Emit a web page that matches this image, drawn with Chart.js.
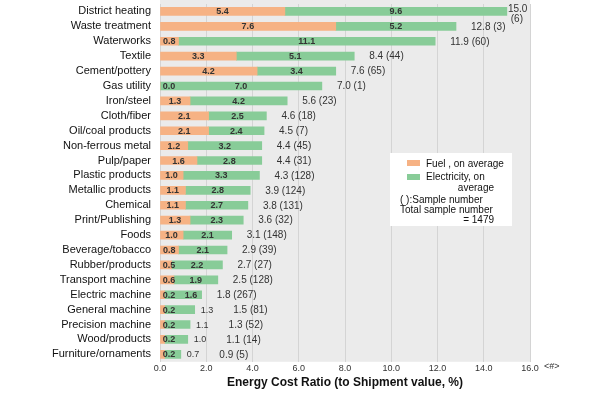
<!DOCTYPE html>
<html>
<head>
<meta charset="utf-8">
<script src="https://cdn.jsdelivr.net/npm/chart.js@4.4.1/dist/chart.umd.min.js"></script>
<style>
  html, body { margin: 0; padding: 0; background: #fff; }
  #wrap { width: 600px; height: 396px; position: relative; }
</style>
</head>
<body>
<div id="wrap"><canvas id="costChart"></canvas></div>
<script>

// Industry categories, top to bottom. 
var industries = ['District heating', 'Waste treatment', 'Waterworks', 'Textile', 'Cement/pottery',
	'Gas utility', 'Iron/steel', 'Cloth/fiber', 'Oil/coal products', 'Non-ferrous metal', 'Pulp/paper',
	'Plastic products', 'Metallic products', 'Chemical', 'Print/Publishing', 'Foods', 'Beverage/tobacco',
	'Rubber/products', 'Transport machine', 'Electric machine', 'General machine', 'Precision machine',
	'Wood/products', 'Furniture/ornaments'];

// Fuel cost ratio, on average (%). 
var fuel = [5.4, 7.6, 0.8, 3.3, 4.2, 0.0, 1.3, 2.1, 2.1, 1.2, 1.6, 1.0, 1.1, 1.1, 1.3, 1.0, 0.8, 0.5, 0.6, 0.2, 0.2, 0.2, 0.2, 0.2];

// Electricity cost ratio, on average (%). 
var electricity = [9.6, 5.2, 11.1, 5.1, 3.4, 7.0, 4.2, 2.5, 2.4, 3.2, 2.8, 3.3, 2.8, 2.7, 2.3, 2.1, 2.1, 2.2, 1.9, 1.6, 1.3, 1.1, 1.0, 0.7];

// Total printed at the end of each bar. 
var totals = [15.0, 12.8, 11.9, 8.4, 7.6, 7.0, 5.6, 4.6, 4.5, 4.4, 4.4, 4.3, 3.9, 3.8, 3.6, 3.1, 2.9, 2.7, 2.5, 1.8, 1.5, 1.3, 1.1, 0.9];

// Sample number per industry. 
var samples = [6, 3, 60, 44, 65, 1, 23, 18, 7, 45, 31, 128, 124, 131, 32, 148, 39, 27, 128, 267, 81, 52, 14, 5];

// X axis tick values. 
var xTicks = [0, 2, 4, 6, 8, 10, 12, 14, 16];

var totalSamples = 1479;

var ORANGE = '#f6b284';
var GREEN = '#88cc98';
var FONT = '"Liberation Sans", Arial, sans-serif';


// Grey plot background. 
var backgroundPlugin = {
	id: 'plotBackground',
	beforeDraw: function(chart) {
		var a = chart.chartArea;
		var ctx = chart.ctx;
		ctx.save();
		ctx.fillStyle = '#ebebeb';
		ctx.fillRect(a.left, 0, a.right - a.left, a.bottom);
		ctx.restore();
	}
};

// Value labels on bars, totals, unit mark and the legend box. 
var labelPlugin = {
	id: 'barLabels',
	afterDatasetsDraw: function(chart) {
		var ctx = chart.ctx;
		var xs = chart.scales.x;
		var ys = chart.scales.y;
		ctx.save();
		ctx.textBaseline = 'middle';

		for (let i = 0; i < industries.length; i++) {
			let y = ys.getPixelForValue(i);
			let x0 = xs.getPixelForValue(0);
			let x1 = xs.getPixelForValue(fuel[i]);
			let x2 = xs.getPixelForValue(fuel[i] + electricity[i]);

			// Fuel value. 
			ctx.font = 'bold 9px ' + FONT;
			ctx.fillStyle = '#333';
			ctx.textAlign = 'center';
			let fx = Math.max((x0 + x1) / 2, x0 + 9);
			ctx.fillText(fuel[i].toFixed(1), fx, y + 0.5);

			// Electricity value. 
			let elecOutside = (x2 - x1) < 33;
			let endOfLabels = x2;
			if (elecOutside) {
				ctx.font = '9px ' + FONT;
				ctx.textAlign = 'left';
				ctx.fillText(electricity[i].toFixed(1), x2 + 6, y + 0.5);
				endOfLabels = x2 + 6 + ctx.measureText(electricity[i].toFixed(1)).width + 20;
			} else {
				let ex = Math.max((x1 + x2) / 2, fx + 22);
				ctx.fillText(electricity[i].toFixed(1), ex, y + 0.5);
				endOfLabels = x2 + 15;
			}

			// Total with sample number. 
			ctx.font = '10px ' + FONT;
			ctx.fillStyle = '#333';
			if (totals[i] > 14) {
				ctx.textAlign = 'left';
				ctx.fillText(totals[i].toFixed(1), x2 + 1, y - 2);
				ctx.textAlign = 'center';
				ctx.fillText('(' + samples[i] + ')', x2 + 10, y + 8);
			} else {
				ctx.textAlign = 'left';
				ctx.fillText(totals[i].toFixed(1) + ' (' + samples[i] + ')', endOfLabels, y + 0.5);
			}
		}

		// Unit mark after the last tick. 
		ctx.font = '9px ' + FONT;
		ctx.textAlign = 'left';
		ctx.fillStyle = '#333';
		ctx.fillText('<#>', xs.getPixelForValue(16) + 14, xs.top + 5);

		// Legend box. 
		ctx.fillStyle = '#fff';
		ctx.fillRect(390, 153, 122, 73);
		let sets = chart.data.datasets;
		ctx.font = '10px ' + FONT;
		ctx.fillStyle = sets[0].backgroundColor;
		ctx.fillRect(407, 160, 13, 6);
		ctx.fillStyle = sets[1].backgroundColor;
		ctx.fillRect(407, 174, 13, 6);
		ctx.fillStyle = '#111';
		ctx.textAlign = 'left';
		ctx.fillText(sets[0].label, 426, 164);
		ctx.fillText('Electricity, on', 426, 177);
		ctx.textAlign = 'right';
		ctx.fillText('average', 494, 188);
		ctx.textAlign = 'left';
		ctx.fillText('( ):Sample number', 400, 200);
		ctx.fillText('Total sample number', 400, 210);
		ctx.textAlign = 'right';
		ctx.fillText('= ' + totalSamples, 494, 220);

		ctx.restore();
	}
};

var costChart = new Chart(document.getElementById('costChart').getContext('2d'), {
	type: 'bar',
	data: {
		labels: industries,
		datasets: [
			{ label: 'Fuel , on average', data: fuel, backgroundColor: ORANGE, barThickness: 8 },
			{ label: 'Electricity, on average', data: electricity, backgroundColor: GREEN, barThickness: 8 }
		]
	},
	options: {
		indexAxis: 'y',
		responsive: true,
		maintainAspectRatio: false,
		animation: false,
		layout: { padding: { top: 4, right: 70, left: 0, bottom: 6 } },
		plugins: {
			legend: { display: false },
			tooltip: { enabled: false }
		},
		scales: {
			x: {
				stacked: true,
				min: 0,
				max: 16,
				afterBuildTicks: function(axis) {
					axis.ticks = xTicks.map(function(v) { return { value: v }; });
				},
				grid: { color: '#d4d4d4', drawTicks: false },
				border: { display: false },
				ticks: {
					padding: 1,
					color: '#333',
					font: { family: FONT, size: 9 },
					callback: function(v) { return Number(v).toFixed(1); }
				},
				title: {
					display: true,
					text: 'Energy Cost Ratio (to Shipment value, %)',
					color: '#111',
					font: { family: FONT, size: 12, weight: 'bold' },
					padding: { top: 1, bottom: 0 }
				}
			},
			y: {
				stacked: true,
				afterFit: function(axis) {
					axis.width = 160;
					axis.paddingTop = 0;
					axis.paddingBottom = 0;
				},
				grid: { display: false, drawTicks: false },
				border: { display: false },
				ticks: {
					autoSkip: false,
					padding: 9,
					color: '#111',
					font: { family: FONT, size: 11 }
				}
			}
		}
	},
	plugins: [backgroundPlugin, labelPlugin]
});
</script>
</body>
</html>
